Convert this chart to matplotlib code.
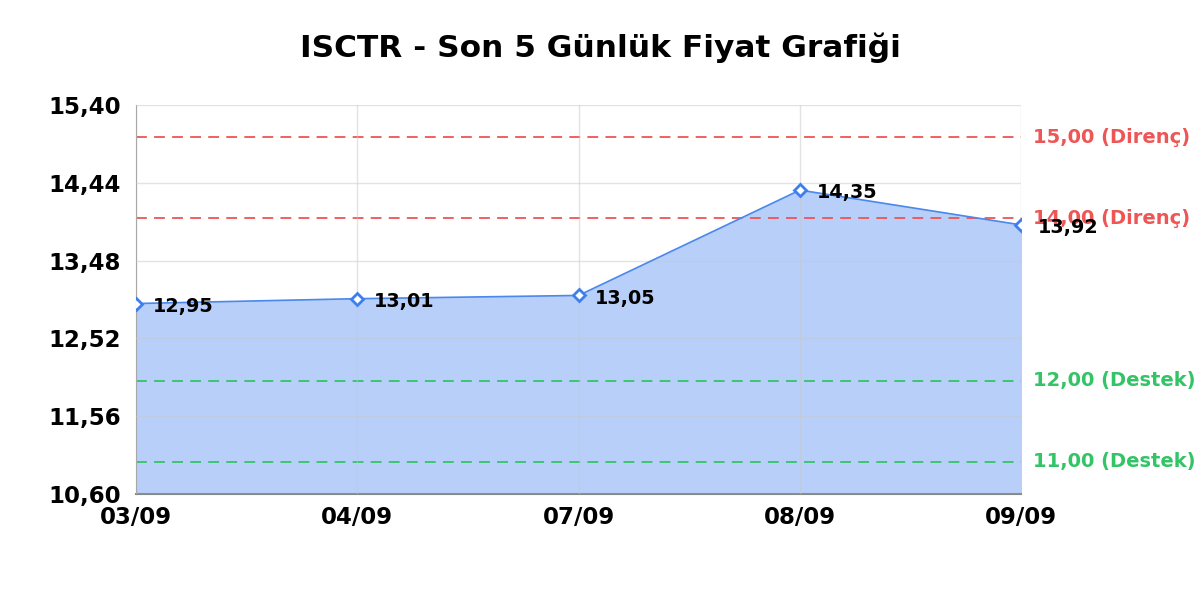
import matplotlib.pyplot as plt

dates = ["03/09", "04/09", "07/09", "08/09", "09/09"]
prices = [12.95, 13.01, 13.05, 14.35, 13.92]
price_labels = ["12,95", "13,01", "13,05", "14,35", "13,92"]

resistance = [15.00, 14.00]
resistance_labels = ["15,00 (Direnç)", "14,00 (Direnç)"]
support = [12.00, 11.00]
support_labels = ["12,00 (Destek)", "11,00 (Destek)"]

y_ticks = [10.60, 11.56, 12.52, 13.48, 14.44, 15.40]
y_tick_labels = ["10,60", "11,56", "12,52", "13,48", "14,44", "15,40"]

plt.rcParams["font.family"] = "DejaVu Sans"
plt.rcParams["font.weight"] = "bold"

fig = plt.figure(figsize=(12, 6), dpi=100)
ax = fig.add_axes([0.1133, 0.1767, 0.7377, 0.6483])

x = list(range(len(dates)))
ax.fill_between(x, prices, 10.60, color="#b7cff9", zorder=1)
ax.plot(x, prices, color="#4a88ee", linewidth=1.2, zorder=3)
ax.plot(x, prices, linestyle="none", marker="D", markersize=6.5,
        markerfacecolor="white", markeredgecolor="#3b7ff0",
        markeredgewidth=2, zorder=4)

for xi, p, lab in zip(x, prices, price_labels):
    ax.annotate(lab, (xi, p), xytext=(12, -2), textcoords="offset points",
                va="center", ha="left", fontsize=13.8, fontweight="bold",
                color="black", zorder=5)

for lvl, lab in zip(resistance, resistance_labels):
    ax.axhline(lvl, color="#ee5555", linestyle=(0, (6, 4)), linewidth=1.3, zorder=2)
    ax.text(1.013, lvl, lab, transform=ax.get_yaxis_transform(), va="center",
            ha="left", fontsize=14, fontweight="bold", color="#ee5555")

for lvl, lab in zip(support, support_labels):
    ax.axhline(lvl, color="#33c466", linestyle=(0, (6, 4)), linewidth=1.3, zorder=2)
    ax.text(1.013, lvl, lab, transform=ax.get_yaxis_transform(), va="center",
            ha="left", fontsize=14, fontweight="bold", color="#33c466")

ax.set_xlim(0, len(dates) - 1)
ax.set_ylim(10.60, 15.40)
ax.set_xticks(x)
ax.set_xticklabels(dates, fontsize=16.5, fontweight="bold")
ax.set_yticks(y_ticks)
ax.set_yticklabels(y_tick_labels, fontsize=16.5, fontweight="bold")
ax.tick_params(axis="y", length=0, pad=11)
ax.tick_params(axis="x", length=0, pad=9)

ax.grid(True, color="#c8c8c8", linewidth=1, alpha=0.5, zorder=0)
ax.set_axisbelow(False)
for s in ["top", "right"]:
    ax.spines[s].set_visible(False)
ax.spines["left"].set_color("#888888")
ax.spines["bottom"].set_color("#888888")
ax.spines["bottom"].set_linewidth(1.5)

fig.text(0.5, 0.92, "ISCTR - Son 5 Günlük Fiyat Grafiği", ha="center", va="center",
         fontsize=22.5, fontweight="bold")

fig.savefig("out.png", dpi=100)
